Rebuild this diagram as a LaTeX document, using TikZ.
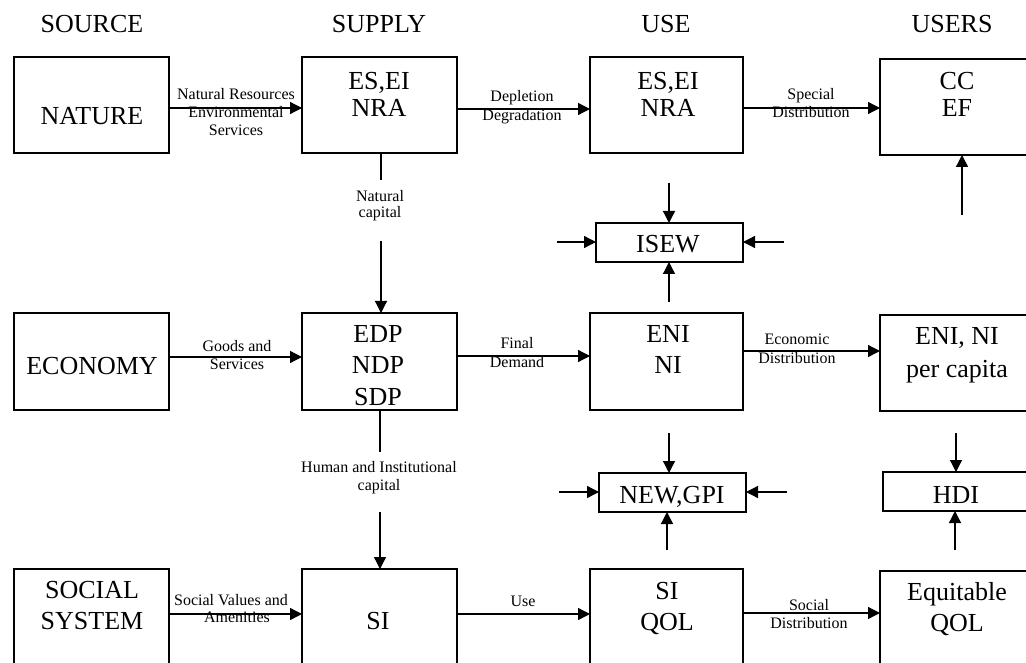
\documentclass[tikz,border=0pt]{standalone}
\usepackage{fontspec}
\setmainfont{Liberation Serif}
\usetikzlibrary{arrows.meta}

\begin{document}
\begin{tikzpicture}[x=1pt,y=-1pt,
  box/.style={draw,line width=2pt,inner sep=0pt,outer sep=0pt},
  big/.style={font=\fontsize{26}{30}\selectfont,anchor=base,inner sep=0pt},
  small/.style={font=\fontsize{16}{18}\selectfont,anchor=base,inner sep=0pt},
  link/.style={line width=1.3pt},
  arr/.style={line width=1.3pt,-{Triangle[length=12pt,width=12pt]}}]

\clip (0,0) rectangle (1026,663);

% column headings
\node[big] (hsource) at (92,33)  {SOURCE};
\node[big] (hsupply) at (379,33) {SUPPLY};
\node[big] (huse)    at (666,33) {USE};
\node[big] (husers)  at (952,33) {USERS};

% top row: nature
\node[box,minimum width=155pt,minimum height=96pt] (nature) at (91.5,105) {};
\node[box,minimum width=155pt,minimum height=96pt] (esup)   at (379.5,105) {};
\node[box,minimum width=153pt,minimum height=96pt] (euse)   at (666.5,105) {};
\node[box,minimum width=156pt,minimum height=96pt] (cc)     at (958,107) {};

% middle row: economy
\node[box,minimum width=155pt,minimum height=97pt] (economy) at (91.5,361.5) {};
\node[box,minimum width=155pt,minimum height=97pt] (edp)     at (379.5,361.5) {};
\node[box,minimum width=153pt,minimum height=97pt] (eni)     at (666.5,361.5) {};
\node[box,minimum width=156pt,minimum height=96pt] (percap)  at (958,363) {};

% bottom row: social system
\node[box,minimum width=155pt,minimum height=110pt] (social) at (91.5,624) {};
\node[box,minimum width=155pt,minimum height=110pt] (si)     at (379.5,624) {};
\node[box,minimum width=153pt,minimum height=110pt] (siqol)  at (666.5,624) {};
\node[box,minimum width=156pt,minimum height=108pt] (equit)  at (958,625) {};

% indicator boxes
\node[box,minimum width=147pt,minimum height=39pt] (isew)   at (669.5,242.5) {};
\node[box,minimum width=147pt,minimum height=39pt] (newgpi) at (672.5,492.5) {};
\node[box,minimum width=153pt,minimum height=39pt] (hdi)    at (959.5,491.5) {};

% box texts
\node[big] (tnature) at (92,125) {NATURE};
\node[big] (tesup1) at (379,90)  {ES,EI};
\node[big] (tesup2) at (379,117) {NRA};
\node[big] (teuse1) at (668,90)  {ES,EI};
\node[big] (teuse2) at (668,117) {NRA};
\node[big] (tcc1)   at (957,90)  {CC};
\node[big] (tcc2)   at (957,117) {EF};

\node[big] (teconomy) at (92,374) {ECONOMY};
\node[big] (tedp1) at (378,342) {EDP};
\node[big] (tedp2) at (378,373) {NDP};
\node[big] (tedp3) at (378,405) {SDP};
\node[big] (teni1) at (668,342) {ENI};
\node[big] (teni2) at (668,373) {NI};
\node[big] (tpc1)  at (957,344) {ENI, NI};
\node[big] (tpc2)  at (957,377) {per capita};

\node[big] (tsoc1) at (92,598) {SOCIAL};
\node[big] (tsoc2) at (92,629) {SYSTEM};
\node[big] (tsi)   at (378,629) {SI};
\node[big] (tsq1)  at (667,599) {SI};
\node[big] (tsq2)  at (667,630) {QOL};
\node[big] (teq1)  at (957,600) {Equitable};
\node[big] (teq2)  at (957,631) {QOL};

\node[big] (tisew) at (668,253) {ISEW};
\node[big] (tnew)  at (672,503) {NEW,GPI};
\node[big] (thdi)  at (956,503) {HDI};

% horizontal flows
\draw[arr] ([yshift=-3pt]nature.east) -- ([yshift=-3pt]esup.west);
\draw[arr] ([yshift=-4pt]esup.east)   -- ([yshift=-4pt]euse.west);
\draw[arr] ([yshift=-3pt]euse.east)   -- (cc.west |- 0,108);
\draw[arr] ([yshift=4.5pt]economy.east) -- ([yshift=4.5pt]edp.west);
\draw[arr] ([yshift=5.5pt]edp.east)   -- ([yshift=5.5pt]eni.west);
\draw[arr] ([yshift=10.5pt]eni.east)  -- (percap.west |- 0,351);
\draw[arr] (social.west |- 0,614) ++(155,0) coordinate (socr) (socr) -- (si.west |- socr);
\draw[arr] (si.east |- 0,614)  -- (siqol.west |- 0,614);
\draw[arr] (siqol.east |- 0,613) -- (equit.west |- 0,613);

% flow labels
\node[small] (lnr1) at (236,100) {Natural Resources};
\node[small] (lnr2) at (236,118) {Environmental};
\node[small] (lnr3) at (236,136) {Services};
\node[small] (ldep1) at (522,102) {Depletion};
\node[small] (ldep2) at (522,121) {Degradation};
\node[small] (lsp1) at (811,100) {Special};
\node[small] (lsp2) at (811,118) {Distribution};
\node[small] (lgs1) at (237,351) {Goods and};
\node[small] (lgs2) at (237,369) {Services};
\node[small] (lfd1) at (517,348) {Final};
\node[small] (lfd2) at (517,367) {Demand};
\node[small] (led1) at (797,344) {Economic};
\node[small] (led2) at (797,363) {Distribution};
\node[small] (lsv1) at (231,605) {Social Values and};
\node[small] (lsv2) at (237,622) {Amenities};
\node[small] (luse) at (523,606) {Use};
\node[small] (lsd1) at (809,610) {Social};
\node[small] (lsd2) at (809,628) {Distribution};

% capital flows down the supply column
\node[small] (lnc1) at (380,202) {Natural};
\node[small] (lnc2) at (380,218) {capital};
\coordinate (nc1) at (381,180);
\coordinate (nc2) at (381,241);
\draw[link] (esup.south -| nc1) -- (nc1);
\draw[arr] (nc2) -- (edp.north -| nc2);

\node[small] (lhc1) at (379,472) {Human and Institutional};
\node[small] (lhc2) at (379,490) {capital};
\coordinate (hc1) at (380,452);
\coordinate (hc2) at (380,512);
\draw[link] (edp.south -| hc1) -- (hc1);
\draw[arr] (hc2) -- (si.north -| hc2);

% inputs to ISEW
\coordinate (iw1) at (669,183);
\coordinate (iw2) at (557,242);
\coordinate (iw3) at (784,242);
\coordinate (iw4) at (669,302);
\draw[arr] (iw1) -- (isew.north -| iw1);
\draw[arr] (iw2) -- (isew.west |- iw2);
\draw[arr] (iw3) -- (isew.east |- iw3);
\draw[arr] (iw4) -- (isew.south -| iw4);

% inputs to NEW,GPI
\coordinate (ng1) at (669,433);
\coordinate (ng2) at (559,492);
\coordinate (ng3) at (787,492);
\coordinate (ng4) at (667,550);
\draw[arr] (ng1) -- (newgpi.north -| ng1);
\draw[arr] (ng2) -- (newgpi.west |- ng2);
\draw[arr] (ng3) -- (newgpi.east |- ng3);
\draw[arr] (ng4) -- (newgpi.south -| ng4);

% users column
\coordinate (cc1) at (962,215);
\draw[arr] (cc1) -- (cc.south -| cc1);
\coordinate (hd1) at (956,433);
\coordinate (hd2) at (955,550);
\draw[arr] (hd1) -- (hdi.north -| hd1);
\draw[arr] (hd2) -- (hdi.south -| hd2);

\end{tikzpicture}
\end{document}
